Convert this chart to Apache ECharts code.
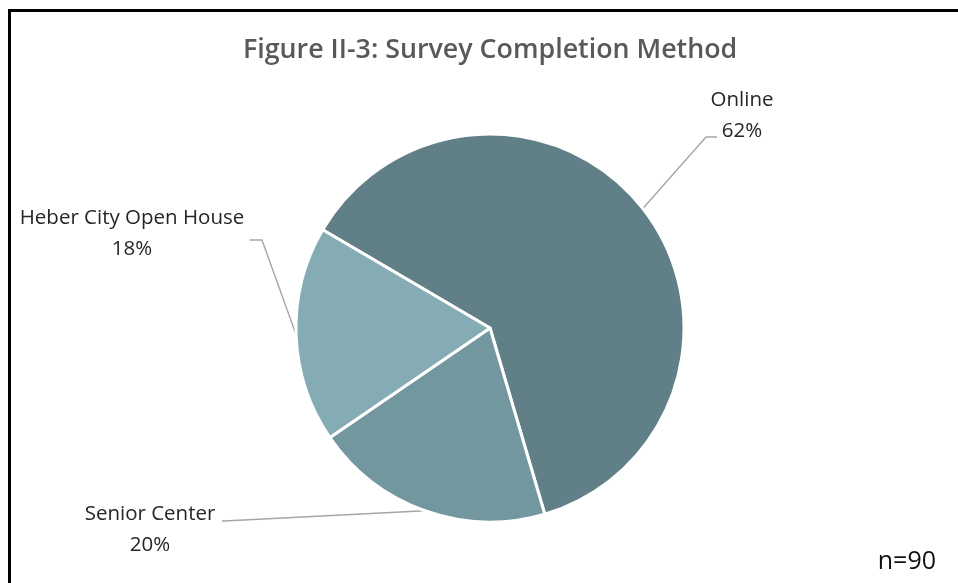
<!DOCTYPE html>
<html>
<head>
<meta charset="utf-8">
<title>Survey Completion Method</title>
<script src="https://cdn.jsdelivr.net/npm/echarts@6/dist/echarts.min.js"></script>
<style>
  html, body { margin: 0; padding: 0; background: #fff; overflow: hidden; }
  #frame {
    position: absolute; left: 8px; top: 9px; width: 1000px; height: 700px;
    border-top: 3px solid #000; border-left: 3px solid #000; box-sizing: border-box;
  }
  #chart { position: absolute; left: 0; top: 0; width: 958px; height: 583px; }
</style>
</head>
<body>
<div id="frame"></div>
<div id="chart"></div>
<script>
// Survey responses by completion method (share of respondents, %)
const methods = ['Online', 'Senior Center', 'Heber City Open House'];
const shares = [62, 20, 18];
const sampleNote = 'n=90';
const sliceColors = ['#617f86', '#72979f', '#85abb4'];

// Where each label sits, and the bend/end of its leader line
const labelSpots = [
  { x: 742, y: 116, bend: [706, 137], end: [717, 137] },
  { x: 150, y: 530, bend: [224, 521], end: [222, 521] },
  { x: 132, y: 234, bend: [262, 240], end: [250, 240] }
];

const chart = echarts.init(document.getElementById('chart'), null, { renderer: 'canvas' });

chart.setOption({
  backgroundColor: 'transparent',
  animation: false,
  title: [
    {
      text: 'Figure II-3: Survey Completion Method',
      left: 238,
      top: 32,
      textStyle: { fontFamily: 'Open Sans', fontWeight: 600, fontSize: 26.8, color: '#595959' }
    },
    {
      text: sampleNote,
      right: 17,
      bottom: 4,
      textStyle: { fontFamily: 'Open Sans', fontWeight: 'normal', fontSize: 25, color: '#111' }
    }
  ],
  series: [{
    type: 'pie',
    center: [490, 328],
    radius: 194,
    startAngle: 149.6,
    clockwise: true,
    percentPrecision: 0,
    itemStyle: { borderColor: '#fff', borderWidth: 3 },
    label: {
      show: true,
      position: 'outside',
      formatter: '{b}\n{c}%',
      fontFamily: 'Open Sans',
      fontSize: 20.5,
      lineHeight: 31,
      color: '#262626'
    },
    labelLine: { show: true, lineStyle: { color: '#a6a6a6', width: 1.4 } },
    labelLayout: function (params) {
      const spot = labelSpots[params.dataIndex];
      const out = { x: spot.x, y: spot.y, align: 'center', verticalAlign: 'middle' };
      if (params.labelLinePoints && params.labelLinePoints.length) {
        out.labelLinePoints = [params.labelLinePoints[0], spot.bend, spot.end];
      }
      return out;
    },
    emphasis: { disabled: true },
    data: methods.map((name, i) => ({
      name: name,
      value: shares[i],
      itemStyle: { color: sliceColors[i] }
    }))
  }]
});
</script>
</body>
</html>
